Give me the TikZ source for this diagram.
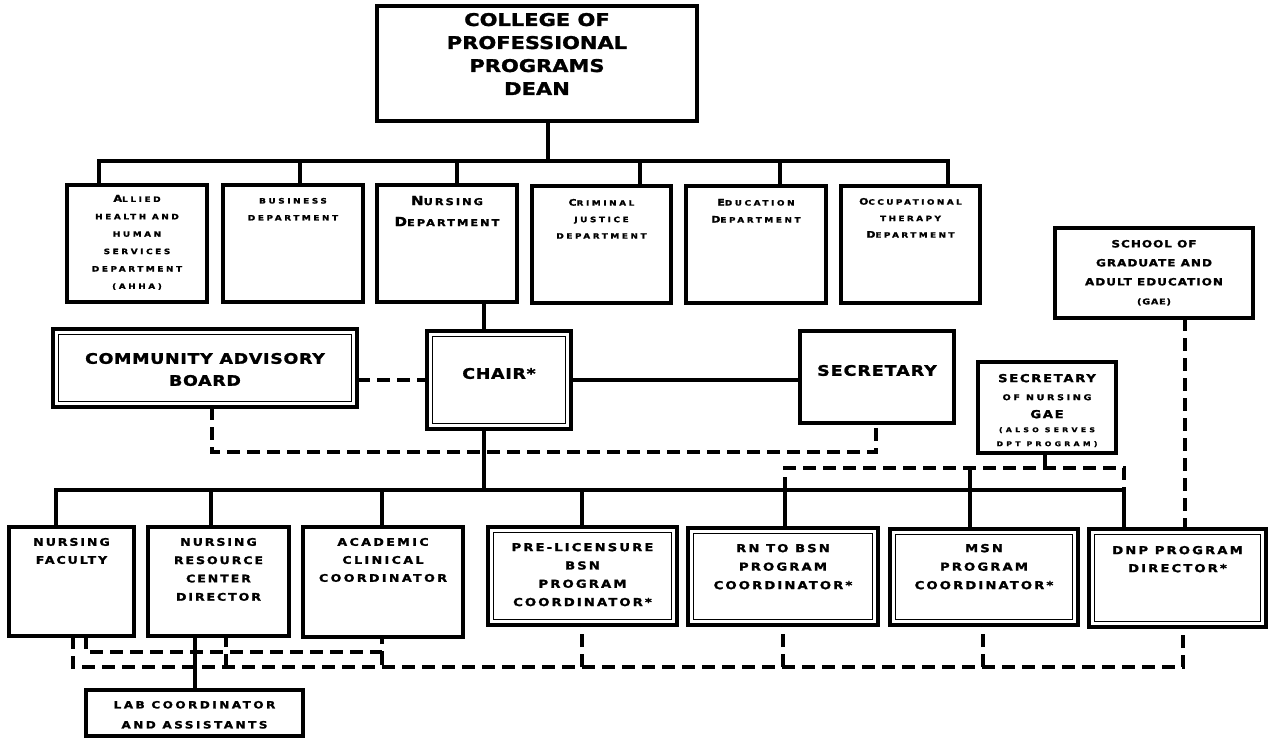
\documentclass[tikz,border=0pt]{standalone}
\usepackage{fontspec}
\setmainfont{DejaVu Sans}[FakeStretch=1.2,FakeBold=1.5]
\newcommand\fs[3]{\fontsize{#1pt}{#2pt}\selectfont\addfontfeature{LetterSpace=#3}}
\newcommand\bg[2]{{\fontsize{#1pt}{0pt}\selectfont #2}}
\newcommand\mkbox[8]{\node[#1, anchor=north west, minimum width=#5pt, minimum height=#6pt] (#2) at (#3,#4) {\parbox[c][#6pt][t]{#5pt}{\centering\vspace*{#7pt}#8\par}};}
\tikzset{
  bx/.style={draw, line width=3.2pt, inner sep=0pt, outer sep=0pt, fill=white, font=\bfseries},
  conn/.style={line width=3.2pt},
  dsh/.style={line width=3.2pt, dash pattern=on 13pt off 7pt},
  inb/.style={line width=1.5pt}
}
\begin{document}
\begin{tikzpicture}[x=1pt,y=-1pt]
\useasboundingbox (0,0) rectangle (1275,738);
\fill[white] (0,0) rectangle (1275,738);
% top
\mkbox{bx}{dean}{377}{6}{320}{115}{7}{\fs{17.5}{23}{0}COLLEGE OF\\PROFESSIONAL\\PROGRAMS\\DEAN}
\mkbox{bx}{allied}{67}{185}{140}{117}{10}{\fs{7.4}{17.4}{35}\bg{9.5}{A}LLIED\\HEALTH AND\\HUMAN\\SERVICES\\DEPARTMENT\\(AHHA)}
\mkbox{bx}{business}{223}{185}{140}{117}{13}{\fs{7.4}{17}{35}BUSINESS\\DEPARTMENT}
\mkbox{bx}{nursing}{377}{185}{140}{117}{11}{\fs{9.5}{21}{21}\bg{12.5}{N}URSING\\\bg{12.5}{D}EPARTMENT}
\mkbox{bx}{criminal}{532}{186}{139}{117}{13}{\fs{7.4}{16.5}{35}\bg{9}{C}RIMINAL\\JUSTICE\\DEPARTMENT}
\mkbox{bx}{education}{686}{186}{140}{117}{13}{\fs{7.4}{17}{35}\bg{9}{E}DUCATION\\\bg{9}{D}EPARTMENT}
\mkbox{bx}{occup}{841}{186}{139}{117}{12}{\fs{7.4}{16.5}{33}\bg{9}{O}CCUPATIONAL\\THERAPY\\\bg{9}{D}EPARTMENT}
% middle
\mkbox{bx}{board}{53}{329}{304}{78}{24}{\fs{14.5}{22}{5}COMMUNITY ADVISORY\\BOARD}
\mkbox{bx}{chair}{427}{331}{144}{98}{37}{\fs{14.5}{20}{5}CHAIR*}
\mkbox{bx}{sec}{800}{331}{154}{92}{34}{\fs{14.5}{20}{7}SECRETARY}
\mkbox{bx}{son}{978}{362}{138}{91}{12}{\fs{8}{18}{15}{\fs{11}{18}{15}SECRETARY}\\{\fs{8}{18}{33}OF NURSING}\\{\fs{11}{18}{15}GAE}\\[-4pt]{\fs{6.5}{14}{50}(ALSO SERVES}\\[-4pt]{\fs{6.5}{14}{50}DPT PROGRAM)}}
\mkbox{bx}{gae}{1055}{228}{198}{90}{12}{\fs{10}{19}{10}SCHOOL OF\\GRADUATE AND\\ADULT EDUCATION\\{\fs{8}{19}{10}(GAE)}}
% bottom
\mkbox{bx}{nf}{9}{527}{125}{109}{11}{\fs{10.5}{18}{18}NURSING\\FACULTY}
\mkbox{bx}{nr}{148}{527}{141}{109}{11}{\fs{10.5}{18.3}{18}NURSING\\RESOURCE\\CENTER\\DIRECTOR}
\mkbox{bx}{ac}{303}{527}{160}{110}{11}{\fs{10.5}{18}{23}ACADEMIC\\CLINICAL\\COORDINATOR}
\mkbox{bx}{pre}{488}{527}{189}{98}{16}{\fs{11}{18.3}{19}PRE-LICENSURE\\BSN\\PROGRAM\\COORDINATOR*}
\mkbox{bx}{rn}{688}{528}{190}{97}{16}{\fs{11}{18.5}{19}RN TO BSN\\PROGRAM\\COORDINATOR*}
\mkbox{bx}{msn}{890}{529}{188}{96}{15}{\fs{11}{18.5}{19}MSN\\PROGRAM\\COORDINATOR*}
\mkbox{bx}{dnp}{1089}{529}{177}{98}{17}{\fs{11}{18}{19}DNP PROGRAM\\DIRECTOR*}
\mkbox{bx}{lab}{86}{690}{217}{46}{11}{\fs{10}{20}{25}LAB COORDINATOR\\AND ASSISTANTS}
% inner borders of double boxes
\foreach \n in {board,chair,pre,rn,msn,dnp}
  \draw[inb] ([shift={(5.5,5.5)}]\n.north west) rectangle ([shift={(-5.5,-5.5)}]\n.south east);
% top connectors
\coordinate (dj) at (548,161);
\coordinate (bA) at (99,161); \coordinate (bB) at (300,161); \coordinate (bN) at (457,161);
\coordinate (bC) at (640,161); \coordinate (bE) at (780,161); \coordinate (bO) at (948,161);
\draw[conn] (dj |- dean.south) -- (dj);
\draw[conn] (bA |- allied.north) -- (bA) -- (bO) -- (bO |- occup.north);
\foreach \c/\n in {bB/business,bN/nursing,bC/criminal,bE/education}
  \draw[conn] (\c) -- (\c |- \n.north);
% middle connectors
\coordinate (cx) at (484,490);
\draw[conn] (cx |- nursing.south) -- (cx |- chair.north);
\draw[conn] (cx |- chair.south) -- (cx);
\coordinate (ym) at (0,380);
\draw[dsh] (board.east |- ym) -- (chair.west |- ym);
\draw[conn] (chair.east |- ym) -- (sec.west |- ym);
\coordinate (l1) at (212,452); \coordinate (l2) at (876,452);
\draw[dsh] (l1 |- board.south) -- (l1) -- (l2) -- (l2 |- sec.south);
% bottom bus
\coordinate (pF) at (56,490); \coordinate (pR) at (211,490); \coordinate (pA) at (382,490);
\coordinate (pP) at (582,490); \coordinate (pN) at (785,490); \coordinate (pD) at (1124,490);
\draw[conn] (pF |- nf.north) -- (pF) -- (pD) -- (pD |- dnp.north);
\foreach \c/\n in {pR/nr,pA/ac,pP/pre,pN/rn}
  \draw[conn] (\c) -- (\c |- \n.north);
\coordinate (qN) at (785,468); \coordinate (qM) at (970,468);
\coordinate (qD) at (1124,468); \coordinate (qS) at (1045,468);
\draw[dsh] (pN) -- (qN) -- (qD) -- (pD);
\draw[conn] (qM) -- (qM |- msn.north);
\draw[conn] (qS |- son.south) -- (qS);
\coordinate (gx) at (1185,0);
\draw[dsh] (gx |- gae.south) -- (gx |- dnp.north);
% bottom dashed
\coordinate (u1) at (86,652); \coordinate (u2) at (382,652);
\draw[dsh] (u1 |- nf.south) -- (u1) -- (u2) -- (u2 |- ac.south);
\coordinate (w1) at (73,667); \coordinate (w2) at (1183,667);
\draw[dsh] (w1 |- nf.south) -- (w1) -- (w2) -- (w2 |- dnp.south);
\coordinate (wR) at (226,667); \coordinate (wP) at (582,667);
\coordinate (wN) at (783,667); \coordinate (wM) at (983,667);
\foreach \c/\n in {wR/nr,wP/pre,wN/rn,wM/msn}
  \draw[dsh] (\c) -- (\c |- \n.south);
\draw[dsh] (u2) -- (u2 |- w1);
\coordinate (lx) at (195,0);
\draw[conn] (lx |- nr.south) -- (lx |- lab.north);
\end{tikzpicture}
\end{document}
